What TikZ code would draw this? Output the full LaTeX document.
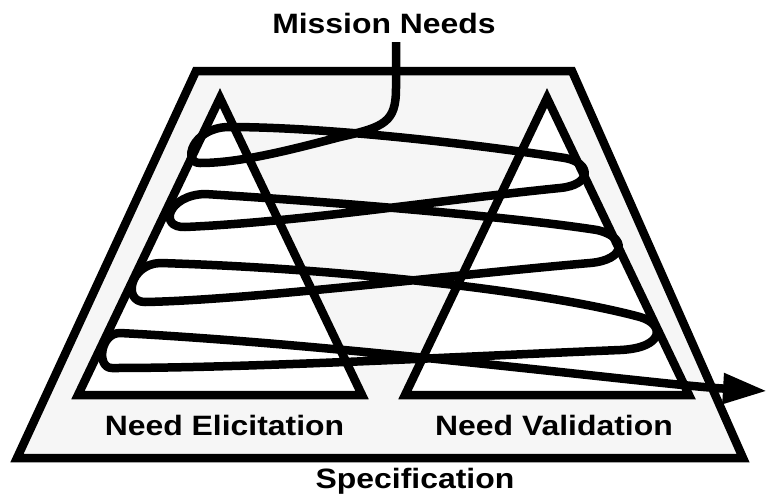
\documentclass[tikz,border=0pt]{standalone}
\usepackage{fontspec}
\setmainfont{Liberation Sans}[FakeStretch=1.14]
\usetikzlibrary{arrows.meta}
\definecolor{trapfill}{RGB}{246,246,246}
\begin{document}
\begin{tikzpicture}[x=1pt,y=-1pt,
  outline/.style={line width=8.5pt, line join=miter, draw=black},
  lbl/.style={font=\fontsize{28}{30}\selectfont\bfseries, inner sep=0pt, anchor=base},
  flow/.style={line width=8.5pt, line cap=butt, line join=round}]
\useasboundingbox (0,0) rectangle (767,493);
% trapezoid
\draw[outline, fill=trapfill] (196,71) -- (572,71) -- (743,458) -- (17,458) -- cycle;
% triangles
\draw[outline, fill=white] (220,98) -- (362,395) -- (78,395) -- cycle;
\draw[outline, fill=white] (547,98) -- (689,395) -- (405,395) -- cycle;
% labels
\node[lbl] (mn) at (384,33) {Mission Needs};
\node[lbl] (ne) at (224.5,435) {Need Elicitation};
\node[lbl] (nv) at (554,435) {Need Validation};
\node[lbl] (sp) at (415,488) {Specification};
\coordinate (start) at (396,42);
\coordinate (out) at (767,391);
% spiral
\draw[flow, -{Triangle[length=44pt,width=29pt]}] (start) -- (396,88)
  .. controls (396,122) and (385,127) .. (340,137)
  .. controls (290,150) and (240,163) .. (200,163)
  .. controls (182,163) and (192,128) .. (228,127)
  .. controls (330,127) and (480,145) .. (565,158)
  .. controls (592,163) and (592,185) .. (560,188)
  .. controls (440,200) and (300,222) .. (185,227)
  .. controls (158,228) and (168,195) .. (205,194)
  .. controls (350,203) and (520,218) .. (597,230)
  .. controls (628,237) and (626,260) .. (590,263)
  .. controls (450,275) and (250,300) .. (145,302)
  .. controls (122,302) and (130,264) .. (160,263)
  .. controls (330,268) and (540,290) .. (640,317)
  .. controls (665,324) and (665,348) .. (620,350)
  .. controls (450,357) and (250,368) .. (112,368)
  .. controls (96,368) and (100,333) .. (120,333)
  .. controls (350,345) and (660,385) .. (out);
\end{tikzpicture}
\end{document}
